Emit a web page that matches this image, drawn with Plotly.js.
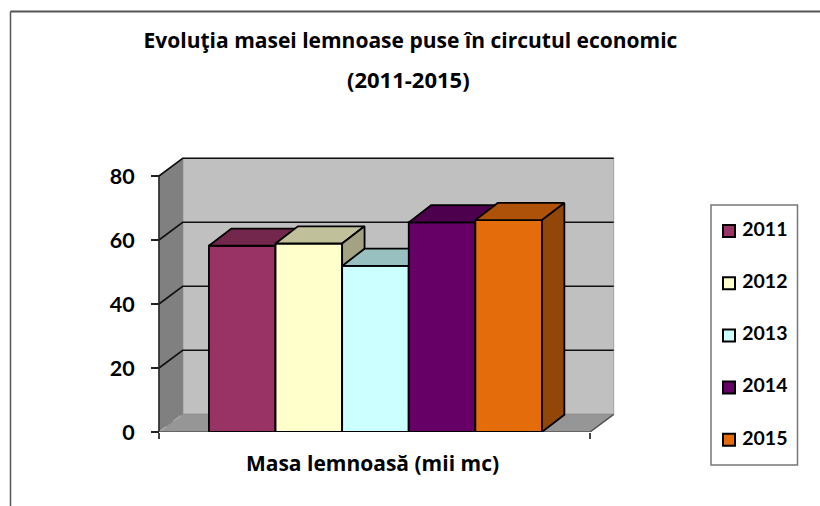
<!DOCTYPE html>
<html>
<head>
<meta charset="utf-8">
<script src="https://cdn.plot.ly/plotly-3.0.1.min.js"></script>
<style>html,body{margin:0;padding:0;background:#fff}</style>
</head>
<body>
<div id="chart" style="width:820px;height:506px"></div>
<script>
// ---- data ----
const years = ['2011', '2012', '2013', '2014', '2015'];
const values = [58.2, 58.9, 51.9, 65.5, 66.2];
const frontColors = ['#993366', '#FFFFCC', '#CCFFFF', '#660066', '#E46C0A'];
const topColors = ['#74274D', '#C0C09A', '#99C0C0', '#4D004D', '#AD5208'];
const sideColors = ['#622142', '#A3A383', '#82A3A3', '#420042', '#924607'];
const yTicks = [0, 20, 40, 60, 80];
const titleLine1 = 'Evoluţia masei lemnoase puse în circutul economic';
const titleLine2 = '(2011-2015)';
const xTitle = 'Masa lemnoasă (mii mc)';

// ---- layout geometry ----
const W = 820, H = 506;
const font = 'Lato, "Open Sans", sans-serif';
const wideFont = '"Open Sans", Lato, sans-serif';
const pxPerBar = 66.6, bar0Px = 242.25;     // x scale
const pxPerUnit = 3.2, basePx = 432;        // y scale
const domLeft = 129, domRight = 616, domTop = 155;
const xOf = p => (p - bar0Px) / pxPerBar;
const yOf = p => (basePx - p) / pxPerUnit;
const xRange = [xOf(domLeft), xOf(domRight)];
const yRange = [0, yOf(domTop)];
const frontL = xOf(159), frontR = xOf(590);
const wallDx = 23.7 / pxPerBar, wallDy = 17.7 / pxPerUnit;
const barDx = 22.4 / pxPerBar, barDy = 17.2 / pxPerUnit;
const halfBar = 0.5;

function poly(xs, ys, fill, line, axis, lw) {
  return {type:'scatter', mode: line ? 'lines' : 'none', x:xs, y:ys, fill:'toself', fillcolor:fill,
    line:{color:line || fill, width: lw === undefined ? 1.8 : lw}, showlegend:false, hoverinfo:'skip',
    cliponaxis:false, xaxis:axis ? 'x'+axis : 'x', yaxis:axis ? 'y'+axis : 'y'};
}
function path(xs, ys, color, width, dash) {
  return {type:'scatter', mode:'lines', x:xs, y:ys, line:{color, width, dash:dash||'solid'},
    showlegend:false, hoverinfo:'skip', cliponaxis:false, xaxis:'x', yaxis:'y'};
}

const topTick = yTicks[yTicks.length - 1];
const traces = [];
// back wall, side wall, floor
traces.push(poly([frontL+wallDx, frontR+wallDx, frontR+wallDx, frontL+wallDx, frontL+wallDx],
                 [wallDy, wallDy, topTick+wallDy, topTick+wallDy, wallDy], '#C0C0C0', '#A0A0A0', null, 1));
traces.push(poly([frontL, frontL+wallDx, frontL+wallDx, frontL, frontL],
                 [0, wallDy, topTick+wallDy, topTick, 0], '#808080', '#808080', null, 1));
traces.push(poly([frontL, frontL+wallDx, frontR+wallDx, frontR, frontL],
                 [0, wallDy, wallDy, 0, 0], '#969696', '#8C8C8C', null, 1));
// grid lines
yTicks.forEach(v => {
  if (v === 0) {
    traces.push(path([frontL, frontL+wallDx], [0, wallDy], '#A8A8A8', 1.5, 'dash'));
  } else {
    traces.push(path([frontL, frontL+wallDx, frontR+wallDx], [v, v+wallDy, v+wallDy], '#111', 1.6));
  }
});
// axis lines
traces.push(path([frontL, frontL], [-1.6, topTick], '#222', 1.5));
traces.push(path([frontL, frontR, frontR+wallDx], [0, 0, wallDy], '#555', 1.5));

// one overlay per bar so that each paints over the previous one
values.forEach((v, i) => {
  const a = i + 2, l = i - halfBar, r = i + halfBar;
  traces.push({type:'bar', name:years[i], x:[i], y:[v], width:[1], showlegend:false,
    marker:{color:frontColors[i], line:{color:'#000', width:1.8}},
    hoverinfo:'name+y', cliponaxis:false, xaxis:'x'+a, yaxis:'y'+a});
  traces.push(poly([l, l+barDx, r+barDx, r, l], [v, v+barDy, v+barDy, v, v], topColors[i], '#000', a));
  traces.push(poly([r, r+barDx, r+barDx, r, r], [v, v+barDy, barDy, 0, v], sideColors[i], '#000', a));
});

// legend: one swatch + label per year on its own small axis pair
const legAxis = years.length + 2;
const legendRowPx = 52.2, legendFirstPx = 231, legendTopPx = 205, legendBottomPx = 465;
traces.push({type:'scatter', mode:'markers+text', x:years.map(() => 0), y:years.map((_, i) => i),
  text:years.map(t => '<b>\u00A0'+t+'</b>'), textposition:'middle right',
  textfont:{family:font, size:19.5, color:'#000'},
  marker:{symbol:'square', size:12, color:frontColors, line:{color:'#000', width:2}},
  showlegend:false, hoverinfo:'skip', cliponaxis:false, xaxis:'x'+legAxis, yaxis:'y'+legAxis});

const layout = {
  width:W, height:H, autosize:false, showlegend:false,
  margin:{l:0, r:0, t:0, b:0}, paper_bgcolor:'#fff', plot_bgcolor:'rgba(0,0,0,0)',
  font:{family:font, color:'#000', size:18},
  barmode:'overlay',
  title:{text:'<b>'+titleLine1+'</b>', font:{family:wideFont, size:21, color:'#000'},
    x:410.5/W, xanchor:'center', xref:'paper', y:1-41/H, yanchor:'middle', yref:'paper'},
  xaxis:{domain:[domLeft/W, domRight/W], range:xRange, anchor:'y', fixedrange:true,
    showgrid:false, zeroline:false, showline:false,
    tickmode:'array', tickvals:[frontL, frontR], ticktext:['', ''], ticks:'outside', ticklen:6, tickwidth:1.5, tickcolor:'#444',
    title:{text:'<b>'+xTitle+'</b>', font:{family:wideFont, size:21, color:'#000'}, standoff:14}},
  yaxis:{domain:[1-basePx/H, 1-domTop/H], range:yRange, anchor:'free', position:159/W, fixedrange:true,
    showgrid:false, zeroline:false, showline:false,
    tickmode:'array', tickvals:yTicks, ticktext:yTicks.map(t => '<b>'+t+'</b>'),
    ticks:'outside', ticklen:8, tickwidth:1.5, tickcolor:'#222', ticklabelstandoff:12,
    tickfont:{family:font, size:21.5, color:'#000'}},
  shapes:[
    {type:'line', xref:'paper', yref:'paper', x0:10.5/W, x1:1, y0:1-11.5/H, y1:1-11.5/H, line:{color:'#555', width:2}},
    {type:'line', xref:'paper', yref:'paper', x0:10.5/W, x1:10.5/W, y0:1-11.5/H, y1:0, line:{color:'#555', width:1.5}},
    {type:'rect', xref:'paper', yref:'paper', x0:711/W, x1:797.5/W, y0:1-legendTopPx/H, y1:1-legendBottomPx/H, line:{color:'#777', width:1.5}, fillcolor:'rgba(0,0,0,0)'}
  ],
  annotations:[
    {text:'<b>'+titleLine2+'</b>', xref:'paper', yref:'paper', x:408.5/W, y:1-79/H, xanchor:'center', yanchor:'middle',
     showarrow:false, font:{family:wideFont, size:22, color:'#000'}}
  ]
};
values.forEach((v, i) => {
  const a = i + 2;
  layout['xaxis'+a] = {overlaying:'x', range:xRange, visible:false, fixedrange:true, anchor:'y'+a};
  layout['yaxis'+a] = {overlaying:'y', range:yRange, visible:false, fixedrange:true, anchor:'x'+a};
});
// legend axes: y in row units, first row at the top
layout['xaxis'+legAxis] = {domain:[711/W, 797/W], range:[-18, 68], visible:false, fixedrange:true, anchor:'y'+legAxis};
layout['yaxis'+legAxis] = {domain:[1-legendBottomPx/H, 1-legendTopPx/H], visible:false, fixedrange:true, anchor:'x'+legAxis,
  range:[(legendBottomPx-legendFirstPx)/legendRowPx, (legendTopPx-legendFirstPx)/legendRowPx]};
Plotly.newPlot('chart', traces, layout, {displayModeBar:false});
</script>
</body>
</html>
